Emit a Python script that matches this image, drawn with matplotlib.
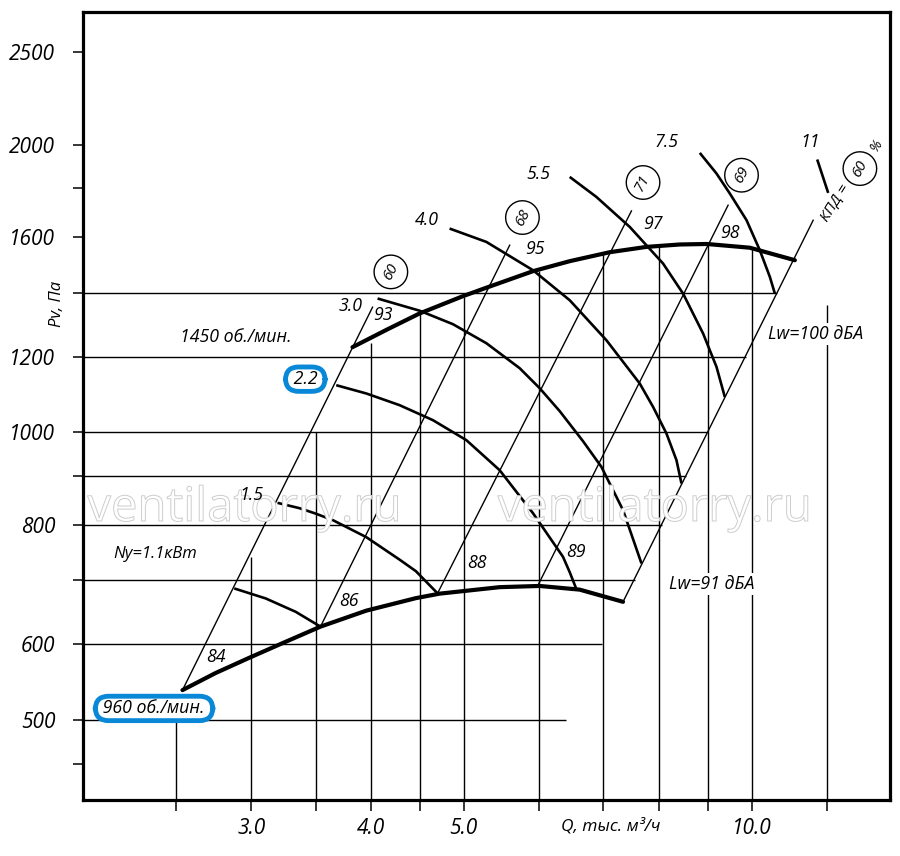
import matplotlib
matplotlib.use('Agg')
import matplotlib.pyplot as plt
import matplotlib.patheffects as pe
from matplotlib.ticker import NullLocator

plt.rcParams['font.family'] = ['Open Sans', 'DejaVu Sans']

# ---------------- data (Q in thousand m3/h, Pv in Pa) ----------------
# fan curves
q960 = [2.541, 2.751, 2.986, 3.233, 3.542, 3.955, 4.456, 4.718, 5.452, 6.003, 6.61, 7.337]
p960 = [537.5, 560, 581.2, 601.9, 626.3, 650.9, 670.8, 678.1, 688.8, 690.8, 684.7, 664.9]
q1450 = [3.826, 4.163, 4.496, 4.99, 5.28, 5.907, 6.453, 7.106, 7.762, 8.411, 8.976, 9.955, 11.095]
p1450 = [1227.9, 1282, 1331.7, 1388.3, 1417, 1474.5, 1510.5, 1543.5, 1563.4, 1572.5, 1574.4, 1560.3, 1514]

# motor power curves (kW)
pw11_q = [2.878, 3.105, 3.338, 3.542]
pw11_p = [686.7, 670.3, 649, 626.3]
pw15_q = [3.194, 3.368, 3.503, 3.649, 3.955, 4.285, 4.456, 4.696]
pw15_p = [843.9, 833.1, 822.2, 809.5, 777, 736, 715.9, 678.5]
pw22_q = [3.679, 3.955, 4.285, 4.643, 5.032, 5.452, 5.907, 6.35, 6.453, 6.558]
pw22_p = [1120.4, 1098.3, 1067.8, 1029.9, 981.5, 913, 823.2, 741, 714.2, 685.5]
pw30_q = [4.064, 4.496, 4.872, 5.28, 5.721, 6.003, 6.3, 6.663, 6.965, 7.337, 7.67]
pw30_p = [1380.6, 1340.7, 1297.8, 1239.7, 1167.3, 1112.4, 1052.5, 979.1, 920.3, 829.2, 729.3]
pw40_q = [4.833, 5.28, 5.907, 6.453, 7.049, 7.638, 7.887, 8.145, 8.344, 8.445]
pw40_p = [1634, 1582.3, 1478, 1375, 1248.7, 1125, 1063.4, 997.4, 935.3, 884.3]
pw55_q = [6.453, 6.881, 7.456, 8.079, 8.478, 8.896, 9.188, 9.374]
pw55_p = [1850.5, 1763.4, 1640.5, 1502, 1397, 1269, 1171, 1089]
pw75_q = [8.826, 9.188, 9.487, 9.877, 10.197, 10.447, 10.573]
pw75_p = [1960.7, 1865.7, 1778, 1667.2, 1551, 1454.4, 1397.4]
pw110_q = [11.708, 12.022]
pw110_p = [1929.8, 1780.5]

# system (efficiency) lines: start and end points
diag_q0 = [2.541, 3.542, 4.696, 5.979, 7.337]
diag_p0 = [537.5, 626.3, 678.9, 692, 664.9]
diag_q1 = [4.015, 5.585, 7.487, 9.448, 11.595]
diag_p1 = [1352, 1569.8, 1705, 1728.6, 1667]
eff_labels = ['60', '68', '71', '69', '60']
lw960_labels = ['84', '86', '88', '89']
lw1450_labels = ['93', '95', '97', '98']
kw_labels = ['Ny=1.1кВт', '1.5', '2.2', '3.0', '4.0', '5.5', '7.5', '11']

# grid lines
vgrid_q = [2.5, 3, 3.5, 4, 4.5, 5, 6, 7, 8, 9, 10, 12]
vgrid_top = [500, 740, 1000, 1240, 1329, 1385, 1474, 1539, 1566, 1574, 1555, 1360]
hgrid_p = [500, 600, 700, 800, 900, 1000, 1200, 1400]
hgrid_end = [6.39, 6.97, 7.547, 8.054, 8.533, 8.976, 9.86, 10.62]

xtick_labels = ['', '3.0', '', '4.0', '', '5.0', '', '', '', '', '10.0', '']
yticks = [450, 500, 600, 700, 800, 900, 1000, 1200, 1400, 1600, 1800, 2000, 2500]
ytick_labels = ['', '500', '600', '', '800', '', '1000', '1200', '', '1600', '', '2000', '2500']

QMIN, QMAX = 2.0, 13.95
PMIN, PMAX = 412.5, 2753

# ---------------- figure ----------------
fig = plt.figure(figsize=(9, 8.56), dpi=100)
ax = fig.add_axes([83 / 900, 56 / 856, 807 / 900, 788 / 856])
ax.set_xscale('log')
ax.set_yscale('log')
ax.set_xlim(QMIN, QMAX)
ax.set_ylim(PMIN, PMAX)

for s in ax.spines.values():
    s.set_linewidth(2.3)

ax.set_xticks(vgrid_q, labels=xtick_labels, fontstyle='italic', fontsize=15)
ax.set_yticks(yticks, labels=ytick_labels, fontstyle='italic', fontsize=15)
ax.xaxis.set_minor_locator(NullLocator())
ax.yaxis.set_minor_locator(NullLocator())
ax.tick_params(axis='x', direction='out', length=8, width=1.1, pad=5)
ax.tick_params(axis='y', direction='out', length=7, width=1.1, pad=13)

GRID_LW = 1.0
for q, top in zip(vgrid_q, vgrid_top):
    ax.plot([q, q], [PMIN, top], color='black', lw=GRID_LW, zorder=1, solid_capstyle='butt')
for p, qe in zip(hgrid_p, hgrid_end):
    ax.plot([QMIN, qe], [p, p], color='black', lw=GRID_LW, zorder=1, solid_capstyle='butt')

for q0, p0, q1, p1 in zip(diag_q0, diag_p0, diag_q1, diag_p1):
    ax.plot([q0, q1], [p0, p1], color='black', lw=1.0, zorder=2)

power_curves = [(pw11_q, pw11_p), (pw15_q, pw15_p), (pw22_q, pw22_p), (pw30_q, pw30_p),
                (pw40_q, pw40_p), (pw55_q, pw55_p), (pw75_q, pw75_p), (pw110_q, pw110_p)]
for qs, ps in power_curves:
    ax.plot(qs, ps, color='black', lw=1.9, zorder=3, solid_capstyle='butt', solid_joinstyle='round')

ax.plot(q960, p960, color='black', lw=3.0, zorder=4, solid_capstyle='round', solid_joinstyle='round')
ax.plot(q1450, p1450, color='black', lw=3.0, zorder=4, solid_capstyle='round', solid_joinstyle='round')

# ---------------- texts ----------------
TXT = dict(fontstyle='italic', fontsize=12.8, ha='center', va='center', zorder=6)

kw_pos = [(2.378, 745.8), (2.998, 859.6), (3.415, 1136.8), (3.806, 1355.9),
          (4.573, 1667.2), (5.989, 1865.7), (8.145, 2013.3), (11.512, 2013.3)]
BLUE = '#0a88d8'
for lab, (x, y) in zip(kw_labels, kw_pos):
    if lab == '2.2':
        ax.text(x, y, ' 2.2 ', bbox=dict(boxstyle='round,pad=0.18,rounding_size=0.75',
                                         fc='white', ec=BLUE, lw=3.5), **TXT)
    elif lab.startswith('Ny'):
        ax.text(x, y, lab, **{**TXT, 'fontsize': 12})
    else:
        ax.text(x, y, lab, **TXT)

lw960_pos = [(2.757, 582.4), (3.796, 666.3), (5.164, 729.3), (6.544, 750)]
lw1450_pos = [(4.116, 1326), (5.932, 1557), (7.887, 1654), (9.481, 1614.7)]
for lab, (x, y) in zip(lw960_labels + lw1450_labels, lw960_pos + lw1450_pos):
    ax.text(x, y, lab, **TXT)

eff_pos = [(4.196, 1472), (5.759, 1678), (7.699, 1825.7), (9.758, 1858), (12.975, 1888)]
for lab, (x, y) in zip(eff_labels, eff_pos):
    ax.text(x, y, lab, fontstyle='italic', fontsize=11, ha='center', va='center',
            rotation=62, rotation_mode='anchor', zorder=6,
            bbox=dict(boxstyle='circle,pad=0.55', fc='white', ec='black', lw=1.0))

ax.text(12.218, 1736.9, 'КПД =', fontstyle='italic', fontsize=11, ha='center', va='center',
        rotation=58, rotation_mode='anchor', zorder=6)
ax.text(13.507, 1997, '%', fontstyle='italic', fontsize=10, ha='center', va='center',
        rotation=58, rotation_mode='anchor', zorder=6)

ax.text(2.887, 1259, '1450 об./мин.', **TXT)
ax.text(2.373, 514.3, ' 960 об./мин. ', bbox=dict(boxstyle='round,pad=0.18,rounding_size=0.75',
                                                  fc='white', ec=BLUE, lw=3.5), **TXT)
ax.text(9.091, 693.8, 'Lw=91 дБА', bbox=dict(fc='white', ec='none', pad=1.5), **TXT)
ax.text(11.666, 1266.9, 'Lw=100 дБА', bbox=dict(fc='white', ec='none', pad=1.5), **TXT)

for x in (2.95, 7.919):
    ax.text(x, 833, 'ventilatorry.ru', fontsize=34, ha='center', va='center',
            color='white', zorder=5,
            path_effects=[pe.Stroke(linewidth=0.7, foreground='#cdcdcd')])

fig.text(56.7 / 900, 1 - 304 / 856, 'Pv, Па', rotation=90, fontstyle='italic', fontsize=12,
         ha='center', va='center')
fig.text(611 / 900, 1 - 826 / 856, 'Q, тыс. м³/ч', fontstyle='italic', fontsize=12.5,
         ha='center', va='center')

fig.savefig('out.png', dpi=100)
